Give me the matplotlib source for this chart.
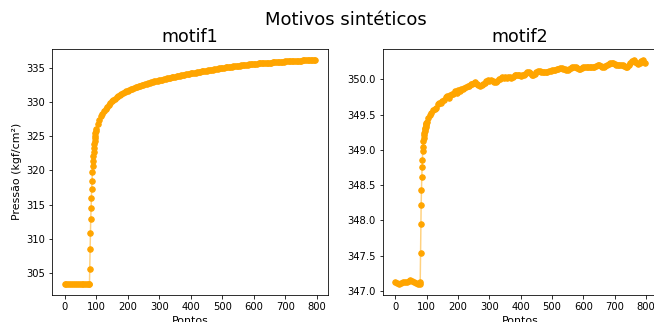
import numpy as np
import matplotlib
matplotlib.use("Agg")
import matplotlib.pyplot as plt

# pontos amostrados: platô (a cada 6), salto (a cada 1), subida lenta (a cada 5)
pontos = list(range(0, 79, 6)) + list(range(79, 100)) + list(range(100, 800, 5))

motif1 = [303.4] * 14 + [
    303.4, 305.6, 308.5, 310.9, 312.9, 314.5, 316.0, 317.3, 318.5, 319.7, 320.6,
    321.4, 322.1, 322.7, 323.3, 323.8, 324.3, 324.7, 325.1, 325.5, 325.8,
    326.1, 326.8, 327.4, 327.9, 328.3, 328.7, 329.0, 329.3, 329.6, 329.85,
    330.1, 330.3, 330.5, 330.7, 330.85, 331.0, 331.15, 331.3, 331.4, 331.55,
    331.65, 331.75, 331.85, 331.95, 332.05, 332.15, 332.25, 332.3, 332.4, 332.5,
    332.55, 332.65, 332.7, 332.8, 332.85, 332.9, 333.0, 333.05, 333.1, 333.15,
    333.2, 333.25, 333.3, 333.35, 333.4, 333.45, 333.5, 333.55, 333.6, 333.65,
    333.7, 333.75, 333.8, 333.85, 333.9, 333.95, 334.0, 334.05, 334.1, 334.15,
    334.2, 334.24, 334.28, 334.32, 334.36, 334.4, 334.44, 334.48, 334.52, 334.56,
    334.6, 334.64, 334.68, 334.72, 334.76, 334.8, 334.84, 334.88, 334.92, 334.96,
    335.0, 335.03, 335.06, 335.09, 335.12, 335.15, 335.18, 335.21, 335.24, 335.27,
    335.3, 335.33, 335.36, 335.39, 335.42, 335.45, 335.48, 335.51, 335.54, 335.57,
    335.6, 335.62, 335.64, 335.65, 335.67, 335.69, 335.71, 335.72, 335.74, 335.76,
    335.78, 335.79, 335.81, 335.83, 335.85, 335.86, 335.88, 335.9, 335.92, 335.93,
    335.95, 335.96, 335.98, 335.99, 336.0, 336.02, 336.03, 336.04, 336.06, 336.07,
    336.08, 336.1, 336.11, 336.12, 336.14, 336.15, 336.16, 336.18, 336.19, 336.2,
]

motif2 = [
    347.12, 347.11, 347.10, 347.11, 347.12, 347.12, 347.13, 347.14, 347.15, 347.14,
    347.12, 347.11, 347.10, 347.10,
    347.12, 347.53, 347.95, 348.22, 348.43, 348.61, 348.76, 348.86, 348.98, 349.04,
    349.13, 349.17, 349.21, 349.24, 349.27, 349.29, 349.31, 349.33, 349.35, 349.37,
    349.38,
    349.40, 349.45, 349.49, 349.52, 349.56, 349.58, 349.60, 349.65, 349.66, 349.67,
    349.69, 349.71, 349.75, 349.76, 349.74, 349.78, 349.80, 349.79, 349.83, 349.81,
    349.85, 349.84, 349.86, 349.87, 349.88, 349.89, 349.90, 349.91, 349.93, 349.94,
    349.95, 349.96, 349.94, 349.92, 349.91, 349.92, 349.93, 349.95, 349.98, 349.99,
    349.98, 349.99, 349.98, 349.97, 349.96, 349.98, 350.00, 350.01, 350.03, 350.02,
    350.03, 350.02, 350.04, 350.03, 350.02, 350.04, 350.06, 350.07, 350.07, 350.06,
    350.05, 350.07, 350.06, 350.08, 350.10, 350.11, 350.09, 350.07, 350.06, 350.08,
    350.10, 350.12, 350.12, 350.11, 350.10, 350.11, 350.10, 350.11, 350.12, 350.12,
    350.13, 350.14, 350.14, 350.15, 350.15, 350.16, 350.16, 350.15, 350.15, 350.14,
    350.14, 350.15, 350.16, 350.17, 350.17, 350.17, 350.16, 350.15, 350.15, 350.16,
    350.18, 350.18, 350.18, 350.17, 350.17, 350.18, 350.18, 350.18, 350.19, 350.20,
    350.20, 350.19, 350.18, 350.18, 350.19, 350.20, 350.22, 350.24, 350.24, 350.23,
    350.22, 350.21, 350.21, 350.21, 350.20, 350.20, 350.19, 350.18, 350.18, 350.21,
    350.24, 350.26, 350.27, 350.25, 350.23, 350.22, 350.24, 350.26, 350.28, 350.23,
]

series = [("motif1", motif1), ("motif2", motif2)]

W, H = 654, 322
fig = plt.figure(figsize=(W / 72, H / 72), dpi=72)
fig.patch.set_facecolor("white")

rects = [
    [52 / W, 27 / H, 276 / W, 246.5 / H],
    [383 / W, 27 / H, 274 / W, 246.5 / H],
]

for i, (name, vals) in enumerate(series):
    ax = fig.add_axes(rects[i])
    ax.plot(pontos, vals, color="orange", alpha=0.5, lw=1.5)
    ax.plot(pontos, vals, "o", color="orange", ms=5.5, mew=1)
    ax.set_title(name, fontsize=17.5)
    ax.set_xticks(range(0, 801, 100))
    ax.set_xlabel("Pontos", fontsize=11)
    if i == 0:
        ax.set_ylabel("Pressão (kgf/cm²)", fontsize=11)

fig.suptitle("Motivos sintéticos", fontsize=18, x=345.5 / W, y=1 - 11 / H, va="top")

fig.savefig("out.png", dpi=72)
